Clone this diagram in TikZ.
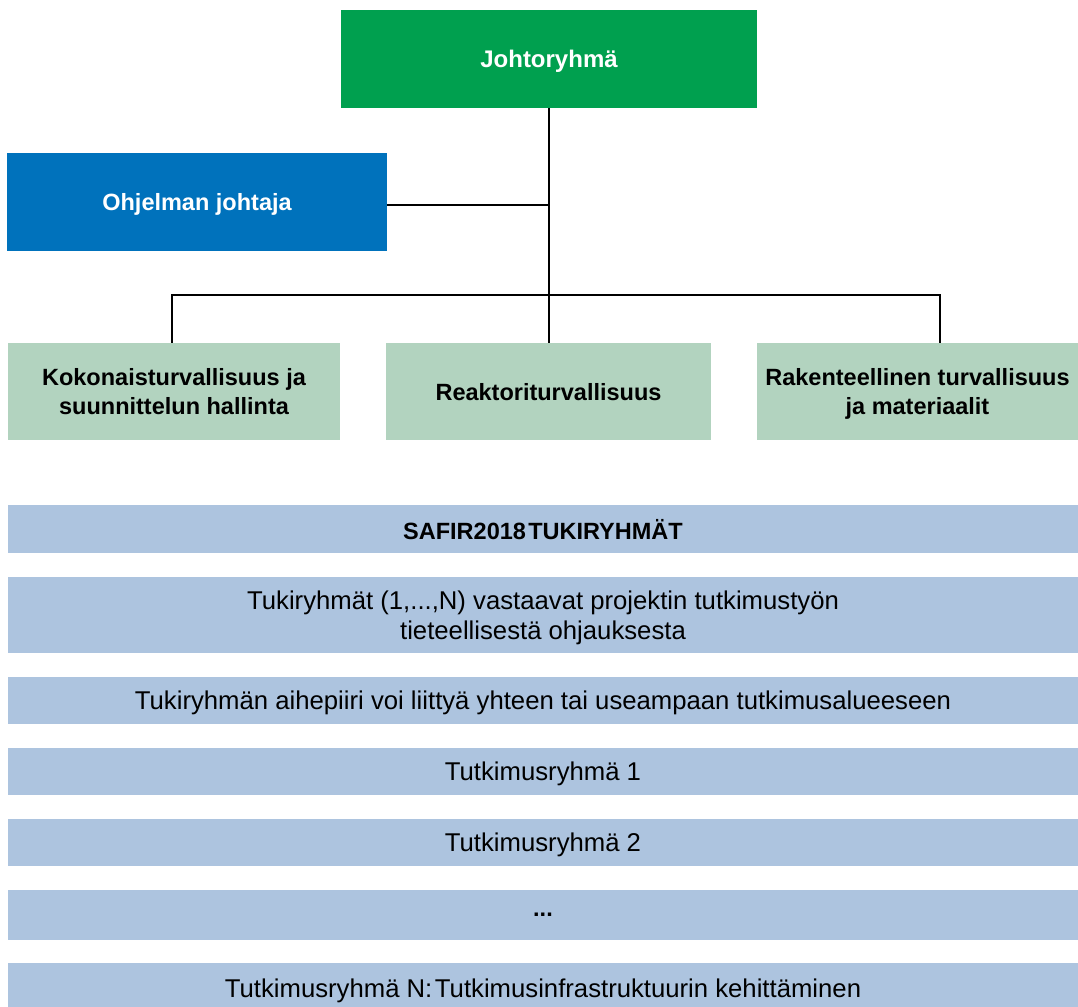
\documentclass[tikz,border=0pt]{standalone}
\usepackage{fontspec}
\setmainfont{Liberation Sans}
\definecolor{darkgreen}{HTML}{00A04F}
\definecolor{darkblue}{HTML}{0072BC}
\definecolor{lightgreen}{HTML}{B2D3BF}
\definecolor{lightblue}{HTML}{ADC4DF}
\begin{document}
\begin{tikzpicture}[x=1pt,y=-1pt,
  box/.style={inner sep=0pt,text depth=0pt,align=center,font=\fontsize{25.7}{30}\selectfont},
  top/.style={box,text=white,font=\bfseries\fontsize{23.5}{28}\selectfont},
  area/.style={box,fill=lightgreen,font=\bfseries\fontsize{23.5}{28.5}\selectfont},
  band/.style={box,fill=lightblue},
  conn/.style={draw=black,line width=2pt}]
\useasboundingbox (0,0) rectangle (1078,1006);
\node[top,fill=darkgreen,minimum width=416pt,minimum height=98pt,font=\bfseries\fontsize{24}{28}\selectfont] (jr) at (549,59) {Johtoryhmä};
\node[top,fill=darkblue,minimum width=380pt,minimum height=98pt] (oj) at (197,202) {Ohjelman johtaja};
\node[area,minimum width=332pt,minimum height=97pt] (a1) at (174,391.5) {Kokonaisturvallisuus ja\\suunnittelun hallinta};
\node[area,minimum width=325pt,minimum height=97pt] (a2) at (548.5,391.5) {Reaktoriturvallisuus};
\node[area,minimum width=321pt,minimum height=97pt] (a3) at (917.5,391.5) {Rakenteellinen turvallisuus\\ja materiaalit};
\coordinate (j1) at (549,205);
\coordinate (bus) at (549,295);
\draw[conn] (jr.south -| bus) -- (bus) -- (a2.north -| bus);
\draw[conn] (oj.east |- j1) -- (j1);
\draw[conn] (a1.north -| 172,0) -- (172,295) -- (940,295) -- (a3.north -| 940,0);
\node[band,minimum width=1070pt,minimum height=48pt,font=\bfseries\fontsize{23.5}{28}\selectfont] (b0) at (543,529) {SAFIR2018\hspace{0.1em}TUKIRYHMÄT};
\node[band,minimum width=1070pt,minimum height=76pt] (b1) at (543,615) {Tukiryhmät (1,...,N) vastaavat projektin tutkimustyön\\tieteellisestä ohjauksesta};
\node[band,minimum width=1070pt,minimum height=47pt] (b2) at (543,700.5) {Tukiryhmän aihepiiri voi liittyä yhteen tai useampaan tutkimusalueeseen};
\node[band,minimum width=1070pt,minimum height=47pt] (b3) at (543,771.5) {Tutkimusryhmä 1};
\node[band,minimum width=1070pt,minimum height=47pt] (b4) at (543,842.5) {Tutkimusryhmä 2};
\node[band,minimum width=1070pt,minimum height=50pt,font=\bfseries\fontsize{23.5}{28}\selectfont] (b5) at (543,915) {...};
\node[band,minimum width=1070pt,minimum height=50pt,anchor=north] (b6) at (543,963) {Tutkimusryhmä N:\hspace{0.1em}Tutkimusinfrastruktuurin kehittäminen};
\end{tikzpicture}
\end{document}
